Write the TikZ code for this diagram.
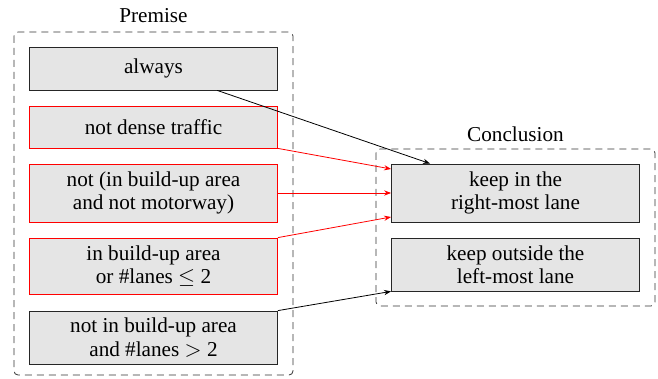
\documentclass[tikz,border=0pt]{standalone}
\usepackage{fontspec}
\setmainfont{Liberation Serif}
\usetikzlibrary{arrows.meta}

\begin{document}
\begin{tikzpicture}[x=0.5pt,y=-0.5pt,
    font=\fontsize{10.6}{11.7}\selectfont,
    caixa/.style={draw=black!85, fill=black!10, align=center, inner sep=0pt, minimum width=124pt},
    caixared/.style={caixa, draw=red},
    grupo/.style={draw=black!80, dash pattern=on 3.5pt off 2.5pt, rounded corners=2pt},
    seta/.style={-{Stealth[length=3.5pt,width=2.6pt]}}]
            \useasboundingbox (0,0) rectangle (658,379);
            % Premissas
            \draw[grupo] (14,32) rectangle (293,375);
            \node (premise) at (153.5,16) {Premise};
            \node[caixa, minimum height=21.5pt] (always) at (153.5,68.5) {always};
            \node[caixared, minimum height=21pt] (dense) at (153.5,127) {not dense traffic};
            \node[caixared, minimum height=29pt] (notbuild) at (153.5,193) {not (in build-up area\\and not motorway)};
            \node[caixared, minimum height=28pt] (build) at (153.5,266) {in build-up area\\or \#lanes $\leq$ 2};
            \node[caixa, minimum height=26.5pt] (nobuild) at (153.5,337.5) {not in build-up area\\and \#lanes $>$ 2};
            % Conclusoes
            \draw[grupo] (376,149) rectangle (655,306);
            \node (conclusion) at (515.5,134) {Conclusion};
            \node[caixa, minimum height=29pt] (right) at (515.5,193) {keep in the\\right-most lane};
            \node[caixa, minimum height=26.5pt] (left) at (515.5,264.5) {keep outside the\\left-most lane};
            % Setas
            \draw[seta] (always) -- (right);
            \draw[seta, red] (dense.south east) -- ([yshift=12pt]right.west);
            \draw[seta, red] (notbuild.east) -- (right.west);
            \draw[seta, red] (build.north east) -- ([yshift=-12pt]right.west);
            \draw[seta] (nobuild.north east) -- (left.south west);
        \end{tikzpicture}
\end{document}
